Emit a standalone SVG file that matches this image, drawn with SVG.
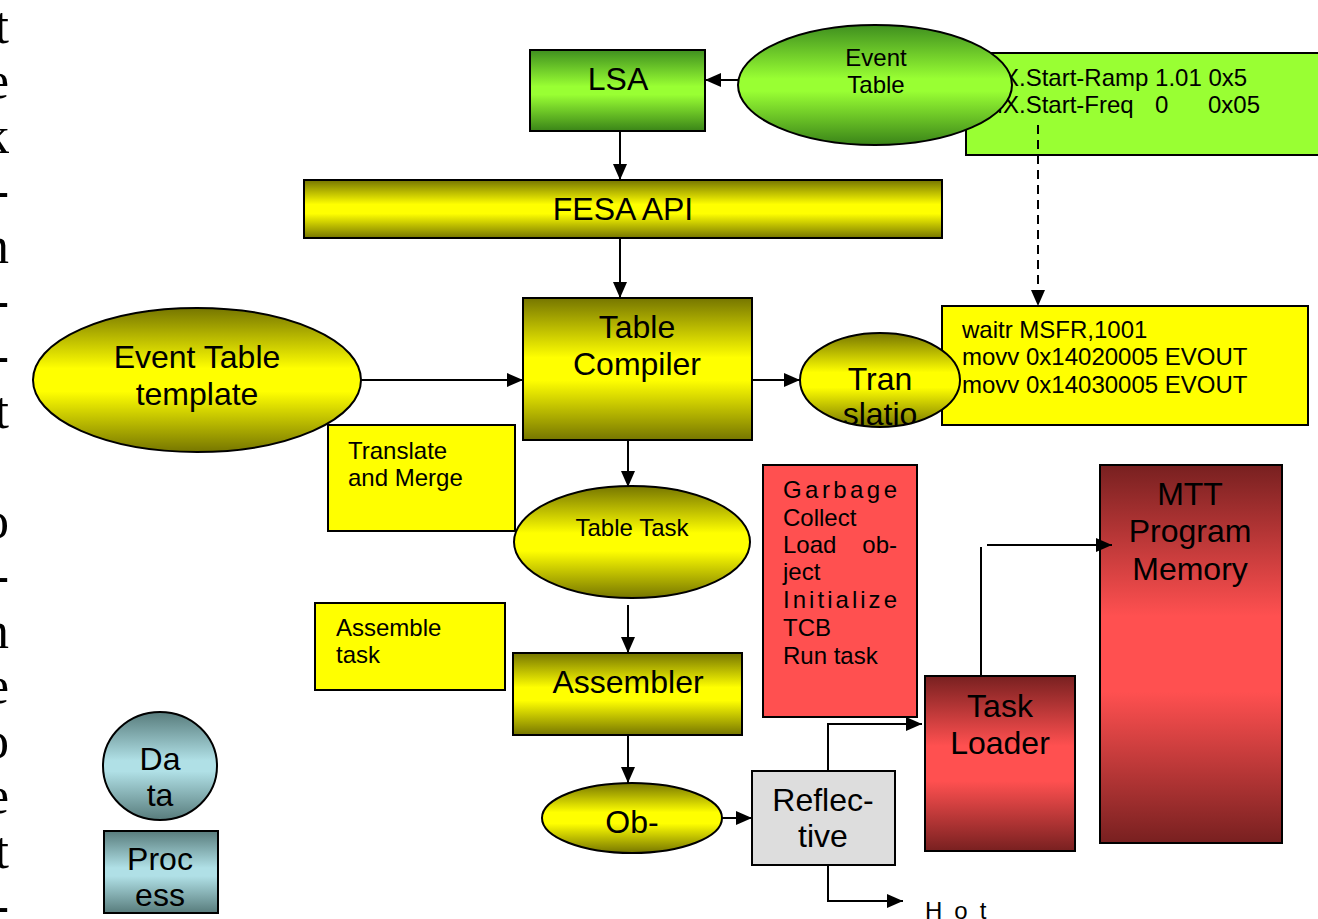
<svg xmlns="http://www.w3.org/2000/svg" width="1318" height="919" viewBox="0 0 1318 919">
<defs>
<linearGradient id="gY" x1="0" y1="0" x2="0" y2="1"><stop offset="0" stop-color="#767600"/><stop offset="0.42" stop-color="#ffff00"/><stop offset="0.58" stop-color="#ffff00"/><stop offset="1" stop-color="#767600"/></linearGradient>
<linearGradient id="gG" x1="0" y1="0" x2="0" y2="1"><stop offset="0" stop-color="#3f8f1f"/><stop offset="0.45" stop-color="#99ff33"/><stop offset="0.55" stop-color="#99ff33"/><stop offset="1" stop-color="#3a8418"/></linearGradient>
<linearGradient id="gR" x1="0" y1="0" x2="0" y2="1"><stop offset="0" stop-color="#782020"/><stop offset="0.4" stop-color="#ff5050"/><stop offset="0.6" stop-color="#ff5050"/><stop offset="1" stop-color="#782020"/></linearGradient>
<linearGradient id="gT" x1="0" y1="0" x2="0" y2="1"><stop offset="0" stop-color="#587c7c"/><stop offset="0.45" stop-color="#b0e0e6"/><stop offset="0.55" stop-color="#b0e0e6"/><stop offset="1" stop-color="#587c7c"/></linearGradient>
<marker id="ah" markerUnits="userSpaceOnUse" markerWidth="16" markerHeight="16" viewBox="0 0 16 16" refX="16" refY="8" orient="auto"><path d="M0,1 L16,8 L0,15 Z" fill="#000"/></marker>
<clipPath id="cT"><ellipse cx="880" cy="380" rx="80" ry="47"/></clipPath>
</defs>
<style>
.b{stroke:#000;stroke-width:2}
.y{fill:url(#gY)}
.g{fill:url(#gG)}
.r{fill:url(#gR)}
.t{fill:url(#gT)}
.fy{fill:#ffff00}
.c{stroke:#000;stroke-width:2;fill:none;marker-end:url(#ah)}
text{font-family:"Liberation Sans",Arial,sans-serif;fill:#000}
.L{font-size:32px;text-anchor:middle}
.S{font-size:24px}
.Sm{font-size:24px;text-anchor:middle}
.ser{font-family:"Liberation Serif","Times New Roman",serif;font-size:52px;text-anchor:end}
</style>
<g id="sidetext">
<text class="ser" x="9" y="43">t</text>
<text class="ser" x="9" y="98">e</text>
<text class="ser" x="9" y="153">k</text>
<text class="ser" x="9" y="208">-</text>
<text class="ser" x="9" y="263">n</text>
<text class="ser" x="9" y="318">-</text>
<text class="ser" x="9" y="373">-</text>
<text class="ser" x="9" y="428">t</text>
<text class="ser" x="9" y="538">o</text>
<text class="ser" x="9" y="593">-</text>
<text class="ser" x="9" y="648">n</text>
<text class="ser" x="9" y="703">e</text>
<text class="ser" x="9" y="758">o</text>
<text class="ser" x="9" y="813">e</text>
<text class="ser" x="9" y="868">t</text>
<text class="ser" x="9" y="923">-</text>
</g>
<g id="eventcode">
<rect class="b" x="966" y="53" width="360" height="102" fill="#99ff33"/>
<text class="S" x="983" y="86">MX.Start-Ramp 1.01 0x5</text>
<text class="S" x="983" y="113">MX.Start-Freq<tspan x="1155">0</tspan><tspan x="1208">0x05</tspan></text>
</g>
<g id="eventtable">
<ellipse class="b g" cx="875" cy="85" rx="137" ry="60"/>
<text class="Sm" x="876" y="66">Event</text>
<text class="Sm" x="876" y="93">Table</text>
</g>
<g id="lsa">
<rect class="b g" x="530" y="50" width="175" height="81"/>
<text class="L" x="618" y="90">LSA</text>
</g>
<g id="fesa">
<rect class="b y" x="304" y="180" width="638" height="58"/>
<text class="L" x="623" y="220">FESA API</text>
</g>
<g id="compiler">
<rect class="b y" x="523" y="298" width="229" height="142"/>
<text class="L" x="637" y="338">Table</text>
<text class="L" x="637" y="375">Compiler</text>
</g>
<g id="template">
<ellipse class="b y" cx="197" cy="380" rx="164" ry="72"/>
<text class="L" x="197" y="368">Event Table</text>
<text class="L" x="197" y="405">template</text>
</g>
<g id="translatemerge">
<rect class="b fy" x="328" y="425" width="187" height="106"/>
<text class="S" x="348" y="459">Translate</text>
<text class="S" x="348" y="486">and Merge</text>
</g>
<g id="code">
<rect class="b fy" x="942" y="306" width="366" height="119"/>
</g>
<g id="translatio">
<ellipse class="b y" cx="880" cy="380" rx="80" ry="47"/>
<g clip-path="url(#cT)">
<text class="L" x="880" y="390">Tran</text>
<text class="L" x="880" y="425">slatio</text>
</g>
</g>
<g id="codetext">
<text class="S" x="962" y="338">waitr MSFR,1001</text>
<text class="S" x="962" y="365">movv 0x14020005 EVOUT</text>
<text class="S" x="962" y="393">movv 0x14030005 EVOUT</text>
</g>
<g id="tabletask">
<ellipse class="b y" cx="632" cy="542" rx="118" ry="56"/>
<text class="Sm" x="632" y="536">Table Task</text>
</g>
<g id="assembletask">
<rect class="b fy" x="315" y="603" width="190" height="87"/>
<text class="S" x="336" y="636">Assemble</text>
<text class="S" x="336" y="663">task</text>
</g>
<g id="assembler">
<rect class="b y" x="513" y="653" width="229" height="82"/>
<text class="L" x="628" y="693">Assembler</text>
</g>
<g id="ob">
<ellipse class="b y" cx="632" cy="818" rx="90" ry="35"/>
<text class="L" x="632" y="833">Ob-</text>
</g>
<g id="reflective">
<rect class="b" x="752" y="771" width="143" height="94" fill="#dddddd"/>
<text class="L" x="823" y="811">Reflec-</text>
<text class="L" x="823" y="847">tive</text>
</g>
<g id="garbage">
<rect class="b" x="763" y="465" width="154" height="252" fill="#ff5050"/>
<text class="S" x="783" y="498" textLength="114" lengthAdjust="spacing">Garbage</text>
<text class="S" x="783" y="526">Collect</text>
<text class="S" x="783" y="553">Load<tspan x="897" text-anchor="end">ob-</tspan></text>
<text class="S" x="783" y="580">ject</text>
<text class="S" x="783" y="608" textLength="114" lengthAdjust="spacing">Initialize</text>
<text class="S" x="783" y="636">TCB</text>
<text class="S" x="783" y="664">Run task</text>
</g>
<g id="taskloader">
<rect class="b r" x="925" y="676" width="150" height="175"/>
<text class="L" x="1000" y="717">Task</text>
<text class="L" x="1000" y="754">Loader</text>
</g>
<g id="mtt">
<rect class="b r" x="1100" y="465" width="182" height="378"/>
<text class="L" x="1190" y="505">MTT</text>
<text class="L" x="1190" y="542">Program</text>
<text class="L" x="1190" y="580">Memory</text>
</g>
<g id="hot">
<text class="S" x="925" y="919" letter-spacing="12">Hot</text>
</g>
<g id="data">
<ellipse class="b t" cx="160" cy="766" rx="57" ry="54"/>
<text class="L" x="160" y="770">Da</text>
<text class="L" x="160" y="806">ta</text>
</g>
<g id="process">
<rect class="b t" x="104" y="831" width="114" height="82"/>
<text class="L" x="160" y="870">Proc</text>
<text class="L" x="160" y="906">ess</text>
</g>
<g id="connectors">
<line class="c" x1="738" y1="80" x2="705" y2="80"/>
<line class="c" x1="620" y1="131" x2="620" y2="180"/>
<line class="c" x1="620" y1="238" x2="620" y2="298"/>
<line class="c" x1="361" y1="380" x2="523" y2="380"/>
<line class="c" x1="752" y1="380" x2="800" y2="380"/>
<line class="c" x1="1038" y1="125" x2="1038" y2="306" stroke-dasharray="9,6"/>
<line class="c" x1="628" y1="440" x2="628" y2="487"/>
<line class="c" x1="628" y1="605" x2="628" y2="653"/>
<line class="c" x1="628" y1="735" x2="628" y2="783"/>
<line class="c" x1="722" y1="818" x2="752" y2="818"/>
<polyline class="c" points="828,771 828,724 922,724"/>
<polyline class="c" points="828,865 828,901 903,901"/>
<line x1="981" y1="676" x2="981" y2="547" stroke="#000" stroke-width="2"/>
<line class="c" x1="987" y1="545" x2="1112" y2="545"/>
</g>
</svg>
